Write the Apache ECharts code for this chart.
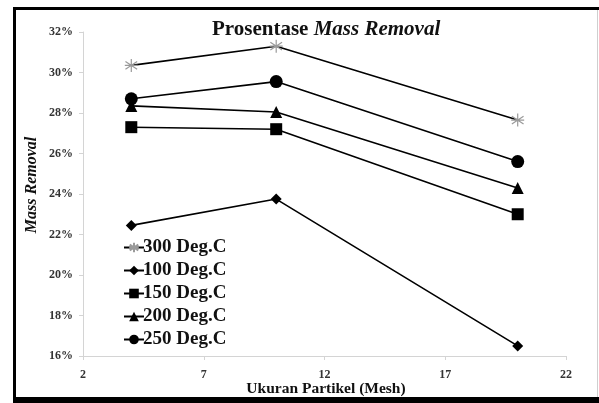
<!DOCTYPE html>
<html>
<head>
<meta charset="utf-8">
<script src="https://cdn.jsdelivr.net/npm/echarts@6/dist/echarts.min.js"></script>
<style>
html, body { margin: 0; padding: 0; background: #fff; }
#chart { width: 599px; height: 403px; }
</style>
</head>
<body>
<div id="chart"></div>
<script>
// ukuran partikel (mesh)
var meshSizes = [4, 10, 20];
// mass removal (%) per suhu
var deg300 = [30.35, 31.3, 27.65];
var deg100 = [22.45, 23.75, 16.5];
var deg150 = [27.3, 27.2, 23.0];
var deg200 = [28.35, 28.05, 24.3];
var deg250 = [28.7, 29.55, 25.6];
var seriesNames = ['300 Deg.C', '100 Deg.C', '150 Deg.C', '200 Deg.C', '250 Deg.C'];

var serif = '"Liberation Serif", "DejaVu Serif", serif';
var asterisk = 'path://M0,-10 L0,10 M-9,-6 L9,6 M-9,6 L9,-6 M-10,0 L10,0';

function pairs(vals) {
    var out = [];
    for (var i = 0; i < meshSizes.length; i++) {
        out.push([meshSizes[i], vals[i]]);
    }
    return out;
}

function makeSeries(name, vals, symbol, size, color) {
    return {
        name: name,
        type: 'line',
        data: pairs(vals),
        symbol: symbol,
        symbolSize: size,
        showAllSymbol: true,
        color: color,
        itemStyle: symbol === asterisk
            ? { color: 'none', borderColor: '#9a9a9a', borderWidth: 1.2 }
            : { color: '#000' },
        lineStyle: { color: '#000', width: 1.6 },
        emphasis: { disabled: true },
        z: 3
    };
}

var chart = echarts.init(document.getElementById('chart'));
var option = {
    animation: false,
    backgroundColor: '#fff',
    title: {
        text: '{a|Prosentase }{b|Mass Removal}',
        left: 207,
        top: 14,
        textStyle: {
            rich: {
                a: { fontFamily: serif, fontWeight: 'bold', fontSize: 21, color: '#111' },
                b: { fontFamily: serif, fontWeight: 'bold', fontStyle: 'italic', fontSize: 21, color: '#111' }
            }
        }
    },
    legend: {
        orient: 'vertical',
        left: 118,
        top: 233,
        itemWidth: 20,
        itemHeight: 12,
        itemGap: 4,
        textStyle: { fontFamily: serif, fontWeight: 'bold', fontSize: 19, color: '#111', padding: [0, 0, 0, -6] },
        data: seriesNames
    },
    grid: { left: 83, right: 33, top: 32, bottom: 47 },
    xAxis: {
        type: 'value',
        min: 2,
        max: 22,
        interval: 5,
        axisLine: { lineStyle: { color: '#d4d4d4', width: 1 } },
        axisTick: { show: true, length: 4, lineStyle: { color: '#d4d4d4' } },
        axisLabel: { fontFamily: serif, fontWeight: 'bold', fontSize: 12, color: '#333', margin: 13 },
        splitLine: { show: false }
    },
    yAxis: {
        type: 'value',
        min: 16,
        max: 32,
        interval: 2,
        axisLine: { show: true, lineStyle: { color: '#d4d4d4', width: 1 } },
        axisTick: { show: true, length: 4, lineStyle: { color: '#d4d4d4' } },
        axisLabel: {
            fontFamily: serif, fontWeight: 'bold', fontSize: 12, color: '#333', margin: 10,
            formatter: function (v) { return v + '%'; }
        },
        splitLine: { show: false }
    },
    graphic: [
        { type: 'line', shape: { x1: 13, y1: 8.5, x2: 599, y2: 8.5 }, style: { stroke: '#000', lineWidth: 3 } },
        { type: 'line', shape: { x1: 14.5, y1: 7, x2: 14.5, y2: 403 }, style: { stroke: '#000', lineWidth: 3 } },
        { type: 'line', shape: { x1: 13, y1: 400, x2: 599, y2: 400 }, style: { stroke: '#000', lineWidth: 6 } },
        { type: 'line', shape: { x1: 597.5, y1: 10, x2: 597.5, y2: 397 }, style: { stroke: '#cfcfcf', lineWidth: 1 } },
        {
            type: 'text', x: 326, y: 389,
            style: {
                text: 'Ukuran Partikel (Mesh)', fill: '#111',
                font: 'bold 15.5px ' + serif, align: 'center', verticalAlign: 'middle'
            }
        },
        {
            type: 'text', x: 32, y: 185, rotation: Math.PI / 2,
            style: {
                text: 'Mass Removal', fill: '#111',
                font: 'italic bold 16px ' + serif, align: 'center', verticalAlign: 'middle'
            }
        }
    ],
    series: [
        makeSeries(seriesNames[0], deg300, asterisk, 13, '#9a9a9a'),
        makeSeries(seriesNames[1], deg100, 'diamond', 11, '#000'),
        makeSeries(seriesNames[2], deg150, 'rect', 12, '#000'),
        makeSeries(seriesNames[3], deg200, 'triangle', 12, '#000'),
        makeSeries(seriesNames[4], deg250, 'circle', 13, '#000')
    ]
};
chart.setOption(option);
</script>
</body>
</html>
